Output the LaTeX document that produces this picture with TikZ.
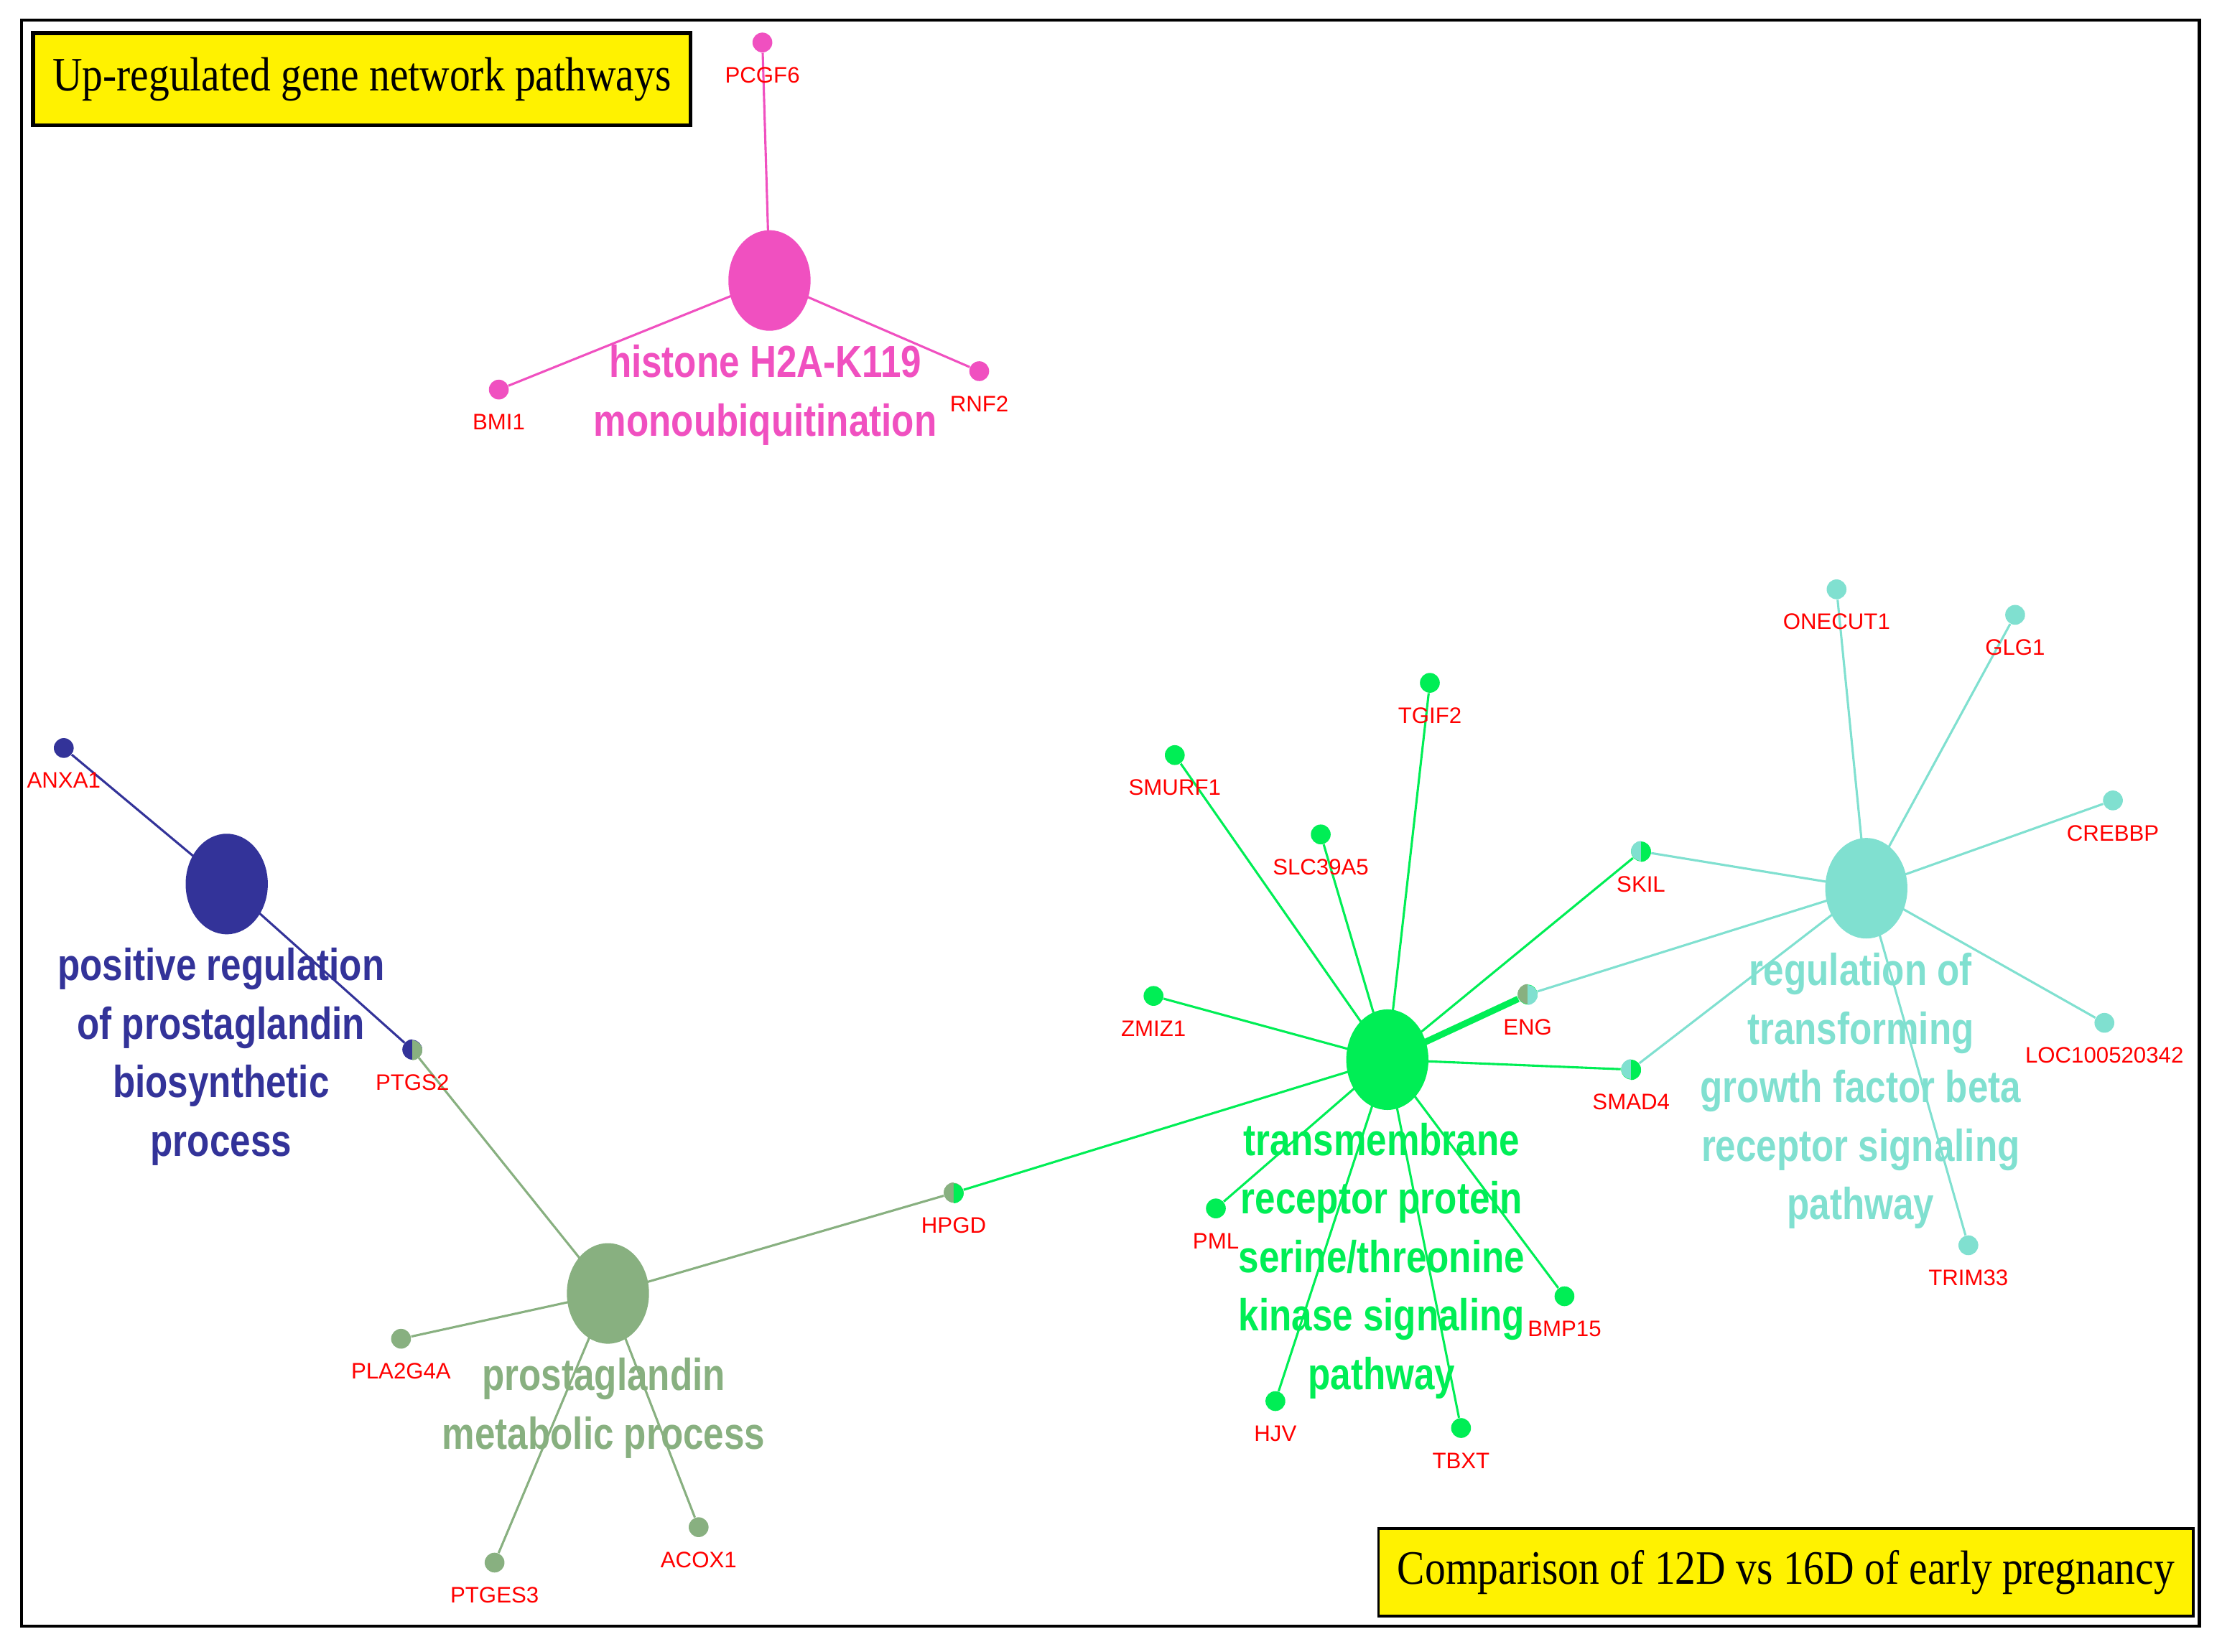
\documentclass[tikz,border=0pt]{standalone}
\usepackage{fontspec}
\setmainfont{Liberation Serif}
\newfontfamily\genefont{Liberation Sans}
\newfontfamily\termfont{Liberation Sans}[FakeStretch=0.82]
\newfontfamily\tagfont{Liberation Serif}[FakeStretch=0.86]
\usetikzlibrary{positioning,shapes.geometric}
\definecolor{histc}{HTML}{F050C0}
\definecolor{protc}{HTML}{333399}
\definecolor{metac}{HTML}{88B080}
\definecolor{kinc}{HTML}{00EE55}
\definecolor{tgfc}{HTML}{80E0D0}
\tikzset{
  hub/.style={ellipse,fill=#1,minimum width=1.16cm,minimum height=1.42cm,inner sep=0pt},
  gene/.style={circle,fill=#1,minimum size=0.28cm,inner sep=0pt},
  glabel/.style={text=red,font=\genefont\fontsize{9}{10}\selectfont,inner sep=1pt},
  term/.style={text=#1,font=\termfont\bfseries\fontsize{18}{23.5}\selectfont,align=center},
  link/.style={draw=#1,line width=0.9pt},
  tag/.style={draw=black,line width=1.6pt,fill=yellow,font=\tagfont\fontsize{19.3}{21}\selectfont,inner sep=6pt}
}
\begin{document}
\begin{tikzpicture}[x=0.02cm,y=-0.02cm]
\useasboundingbox (0,0) rectangle (1568,1166);
\draw[line width=1.2pt] (15,14) rectangle (1552,1148);

% hubs
\coordinate (hist) at (543,198);
\coordinate (prot) at (160,624);
\coordinate (meta) at (429,913);
\coordinate (kin) at (979,748);
\coordinate (tgf) at (1317,627);

% genes
\node[gene=histc] (pcgf6) at (538,30) {};
\node[gene=histc] (bmi1) at (352,275) {};
\node[gene=histc] (rnf2) at (691,262) {};
\node[gene=protc] (anxa1) at (45,528) {};
\node[gene=protc] (ptgs2) at (291,741) {};
\node[gene=metac] (hpgd) at (673,842) {};
\node[gene=metac] (pla2g4a) at (283,945) {};
\node[gene=metac] (ptges3) at (349,1103) {};
\node[gene=metac] (acox1) at (493,1078) {};
\node[gene=kinc] (smurf1) at (829,533) {};
\node[gene=kinc] (tgif2) at (1009,482) {};
\node[gene=kinc] (slc39a5) at (932,589) {};
\node[gene=kinc] (zmiz1) at (814,703) {};
\node[gene=kinc] (pml) at (858,853) {};
\node[gene=kinc] (hjv) at (900,989) {};
\node[gene=kinc] (tbxt) at (1031,1008) {};
\node[gene=kinc] (bmp15) at (1104,915) {};
\node[gene=kinc] (eng) at (1078,702) {};
\node[gene=kinc] (smad4) at (1151,755) {};
\node[gene=kinc] (skil) at (1158,601) {};
\node[gene=tgfc] (onecut1) at (1296,416) {};
\node[gene=tgfc] (glg1) at (1422,434) {};
\node[gene=tgfc] (crebbp) at (1491,565) {};
\node[gene=tgfc] (loc) at (1485,722) {};
\node[gene=tgfc] (trim33) at (1389,879) {};

% edges
\foreach \g in {pcgf6,bmi1,rnf2} \draw[link=histc] (hist) -- (\g);
\foreach \g in {anxa1,ptgs2} \draw[link=protc] (prot) -- (\g);
\foreach \g in {ptgs2,hpgd,pla2g4a,ptges3,acox1} \draw[link=metac] (meta) -- (\g);
\foreach \g in {hpgd,smurf1,tgif2,slc39a5,zmiz1,pml,hjv,tbxt,bmp15,smad4,skil} \draw[link=kinc] (kin) -- (\g);
\draw[link=kinc,line width=2.6pt] (kin) -- (eng);
\foreach \g in {onecut1,glg1,crebbp,loc,trim33,eng,smad4,skil} \draw[link=tgfc] (tgf) -- (\g);

% hub discs on top, mixed genes split
\foreach \n/\c in {hist/histc,prot/protc,meta/metac,kin/kinc,tgf/tgfc}
  \node[hub=\c] at (\n) {};
\foreach \n/\l/\r in {ptgs2/protc/metac,hpgd/metac/kinc,eng/metac/tgfc,smad4/tgfc/kinc,skil/tgfc/kinc}{
  \fill[\l] (\n.north) arc (90:270:0.14cm) -- cycle;
  \fill[\r] (\n.south) arc (-90:90:0.14cm) -- cycle;}

% gene labels
\node[glabel] at (538,53) {PCGF6};
\node[glabel] at (352,298) {BMI1};
\node[glabel] at (691,285) {RNF2};
\node[glabel] at (45,551) {ANXA1};
\node[glabel] at (291,764) {PTGS2};
\node[glabel] at (673,865) {HPGD};
\node[glabel] at (283,968) {PLA2G4A};
\node[glabel] at (349,1126) {PTGES3};
\node[glabel] at (493,1101) {ACOX1};
\node[glabel] at (829,556) {SMURF1};
\node[glabel] at (1009,505) {TGIF2};
\node[glabel] at (932,612) {SLC39A5};
\node[glabel] at (814,726) {ZMIZ1};
\node[glabel] at (858,876) {PML};
\node[glabel] at (900,1012) {HJV};
\node[glabel] at (1031,1031) {TBXT};
\node[glabel] at (1104,938) {BMP15};
\node[glabel] at (1078,725) {ENG};
\node[glabel] at (1151,778) {SMAD4};
\node[glabel] at (1158,624) {SKIL};
\node[glabel] at (1296,439) {ONECUT1};
\node[glabel] at (1422,457) {GLG1};
\node[glabel] at (1491,588) {CREBBP};
\node[glabel] at (1485,745) {LOC100520342};
\node[glabel] at (1389,902) {TRIM33};

% term labels
\node[term=histc] (histlab) at (540,279) {histone H2A-K119\\monoubiquitination};
\node[term=protc] (protlab) at (156,746) {positive regulation\\of prostaglandin\\biosynthetic\\process};
\node[term=metac] (metalab) at (426,994) {prostaglandin\\metabolic process};
\node[term=kinc] (kinlab) at (975,890) {transmembrane\\receptor protein\\serine/threonine\\kinase signaling\\pathway};
\node[term=tgfc] (tgflab) at (1313,770) {regulation of\\transforming\\growth factor beta\\receptor signaling\\pathway};

% boxes
\node[tag,anchor=north west,minimum width=9.28cm,minimum height=1.3cm] (uptag) at (22,22) {Up-regulated gene network pathways};
\node[tag,anchor=north west,minimum width=11.5cm,minimum height=1.24cm,line width=1pt] (cmptag) at (972,1078) {Comparison of 12D vs 16D of early pregnancy};
\end{tikzpicture}
\end{document}
